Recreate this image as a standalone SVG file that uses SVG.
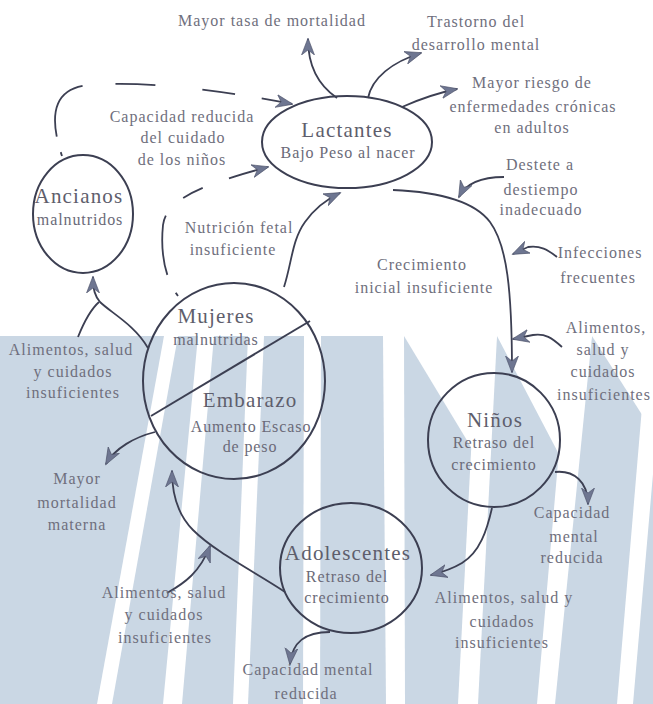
<svg xmlns="http://www.w3.org/2000/svg" width="653" height="704" viewBox="0 0 653 704">
  <style>
    .lbl { font-family: "Liberation Serif", "Times New Roman", serif; font-size: 16px; letter-spacing: 1px; fill: #6f6f7d; text-anchor: middle; }
    .ttl { font-family: "Liberation Serif", "Times New Roman", serif; font-size: 21px; letter-spacing: 1.2px; fill: #5e5e6c; text-anchor: middle; }
    .sub { font-family: "Liberation Serif", "Times New Roman", serif; font-size: 16px; letter-spacing: 0.9px; fill: #6a6a78; text-anchor: middle; }
    .node { fill: none; stroke: #3c3f52; stroke-width: 2; }
    .link { fill: none; stroke: #3c3f52; stroke-width: 1.8; marker-end: url(#head); }
    .band { fill: #cad7e4; }
    .gap { fill: #ffffff; }
  </style>
  <defs>
    <marker id="head" markerUnits="userSpaceOnUse" markerWidth="18" markerHeight="14" refX="16" refY="7" orient="auto">
      <path d="M0,0.5 L17,7 L0,13.5 L5,7 Z" fill="#6e7691" stroke="#4a4f66" stroke-width="0.6"/>
    </marker>
  </defs>

  <rect width="653" height="704" fill="#ffffff"/>

  <!-- pale striped band behind the lower half -->
  <g id="band">
    <rect class="band" x="0" y="336" width="653" height="368"/>
    <polygon class="gap" points="164,336 178,336 112,704 97,704"/>
    <polygon class="gap" points="198,336 214,336 182,704 163,704"/>
    <polygon class="gap" points="248,336 264,336 248,704 233,704"/>
    <polygon class="gap" points="304,336 321,336 320,704 303,704"/>
    <polygon class="gap" points="383,336 404,336 405,704 386,704"/>
    <polygon class="gap" points="477,336 497,336 478,704 458,704"/>
    <polygon class="gap" points="569,336 592,336 555,704 537,704"/>
    <polygon class="gap" points="648,336 665,336 633,704 617,704"/>
    <polygon class="gap" points="404,336 497,336 474,452"/>
    <polygon class="gap" points="497,336 592,336 563,462"/>
    <polygon class="gap" points="592,336 653,336 653,432"/>
  </g>

  <!-- connectors -->
  <g id="connectors">
    <path class="link" d="M 62,156 C 50,120 50,88 90,85 C 150,80 230,92 292,104" stroke-dasharray="4 16 65 33 40 47 33 27 40"/>
    <path class="link" d="M 178,296 C 166,280 160,255 163,225 C 166,200 200,185 268,167" stroke-dasharray="4 20 60 25 22 28 60"/>
    <path class="link" d="M 284,287 C 292,262 292,240 305,222 C 315,208 325,200 340,193"/>
    <path class="link" d="M 337,98 C 318,85 308,65 308,39"/>
    <path class="link" d="M 368,98 C 372,78 392,62 421,53"/>
    <path class="link" d="M 402,107 C 420,99 437,93 457,89"/>
    <path class="link" d="M 393,190 C 440,192 475,202 490,222 C 507,245 512,290 512,372"/>
    <path class="link" d="M 504,177 C 482,177 466,183 459,197"/>
    <path class="link" d="M 557,257 C 548,250 540,245 528,247 L 513,254"/>
    <path class="link" d="M 562,347 C 552,338 545,333 533,335 L 513,339"/>
    <path class="link" d="M 555,472 C 574,470 588,482 588,504"/>
    <path class="link" d="M 492,508 C 487,530 480,552 462,563 C 452,569 443,572 431,575"/>
    <path class="link" d="M 285,592 C 255,572 215,552 193,530 C 178,515 172,495 172,471"/>
    <path class="link" d="M 167,593 C 185,583 200,572 210,546"/>
    <path class="link" d="M 330,632 C 305,632 292,642 290,664"/>
    <path class="link" d="M 155,432 C 135,437 115,448 106,464"/>
    <path class="link" d="M 148,348 C 135,325 110,312 100,302 C 95,296 93,290 93,277"/>
    <path class="link" d="M 78,337 C 84,322 90,310 99,302" marker-end="none" style="marker-end:none"/>
  </g>

  <!-- nodes -->
  <g id="lactantes">
    <ellipse class="node" cx="347" cy="142" rx="85" ry="46"/>
    <text class="ttl" x="347" y="137">Lactantes</text>
    <text class="sub" x="348" y="158">Bajo Peso al nacer</text>
  </g>
  <g id="ancianos">
    <ellipse class="node" cx="83" cy="214" rx="50" ry="59"/>
    <text class="ttl" x="79" y="203">Ancianos</text>
    <text class="sub" x="80" y="225">malnutridos</text>
  </g>
  <g id="mujeres">
    <ellipse class="node" cx="234" cy="381" rx="91" ry="98"/>
    <line class="node" x1="151" y1="416" x2="310" y2="321"/>
    <text class="ttl" x="216" y="323">Mujeres</text>
    <text class="sub" x="216" y="345">malnutridas</text>
    <text class="ttl" x="250" y="407">Embarazo</text>
    <text class="sub" x="251" y="432">Aumento Escaso</text>
    <text class="sub" x="250" y="452">de peso</text>
  </g>
  <g id="ninos">
    <ellipse class="node" cx="494" cy="440" rx="66" ry="67"/>
    <text class="ttl" x="495" y="427">Niños</text>
    <text class="sub" x="494" y="448">Retraso del</text>
    <text class="sub" x="494" y="470">crecimiento</text>
  </g>
  <g id="adolescentes">
    <ellipse class="node" cx="351" cy="568" rx="71" ry="65"/>
    <text class="ttl" x="348" y="560">Adolescentes</text>
    <text class="sub" x="347" y="582">Retraso del</text>
    <text class="sub" x="347" y="603">crecimiento</text>
  </g>

  <!-- effect and cause labels -->
  <g id="labels">
    <text class="lbl" x="272" y="26">Mayor tasa de mortalidad</text>
    <text class="lbl" x="476" y="27">Trastorno del</text>
    <text class="lbl" x="476" y="50">desarrollo mental</text>
    <text class="lbl" x="532" y="88">Mayor riesgo de</text>
    <text class="lbl" x="533" y="112">enfermedades crónicas</text>
    <text class="lbl" x="532" y="133">en adultos</text>
    <text class="lbl" x="182" y="122">Capacidad reducida</text>
    <text class="lbl" x="183" y="143">del cuidado</text>
    <text class="lbl" x="182" y="165">de los niños</text>
    <text class="lbl" x="239" y="233">Nutrición fetal</text>
    <text class="lbl" x="233" y="255">insuficiente</text>
    <text class="lbl" x="540" y="170">Destete a</text>
    <text class="lbl" x="541" y="195">destiempo</text>
    <text class="lbl" x="541" y="215">inadecuado</text>
    <text class="lbl" x="600" y="258">Infecciones</text>
    <text class="lbl" x="598" y="283">frecuentes</text>
    <text class="lbl" x="422" y="270">Crecimiento</text>
    <text class="lbl" x="424" y="293">inicial insuficiente</text>
    <text class="lbl" x="606" y="333">Alimentos,</text>
    <text class="lbl" x="603" y="355">salud y</text>
    <text class="lbl" x="603" y="377">cuidados</text>
    <text class="lbl" x="604" y="400">insuficientes</text>
    <text class="lbl" x="71" y="355">Alimentos, salud</text>
    <text class="lbl" x="73" y="377">y cuidados</text>
    <text class="lbl" x="73" y="398">insuficientes</text>
    <text class="lbl" x="77" y="484">Mayor</text>
    <text class="lbl" x="77" y="508">mortalidad</text>
    <text class="lbl" x="77" y="530">materna</text>
    <text class="lbl" x="572" y="518">Capacidad</text>
    <text class="lbl" x="574" y="542">mental</text>
    <text class="lbl" x="572" y="563">reducida</text>
    <text class="lbl" x="504" y="603">Alimentos, salud y</text>
    <text class="lbl" x="502" y="627">cuidados</text>
    <text class="lbl" x="502" y="648">insuficientes</text>
    <text class="lbl" x="164" y="598">Alimentos, salud</text>
    <text class="lbl" x="164" y="620">y cuidados</text>
    <text class="lbl" x="165" y="643">insuficientes</text>
    <text class="lbl" x="308" y="675">Capacidad mental</text>
    <text class="lbl" x="306" y="699">reducida</text>
  </g>
</svg>
